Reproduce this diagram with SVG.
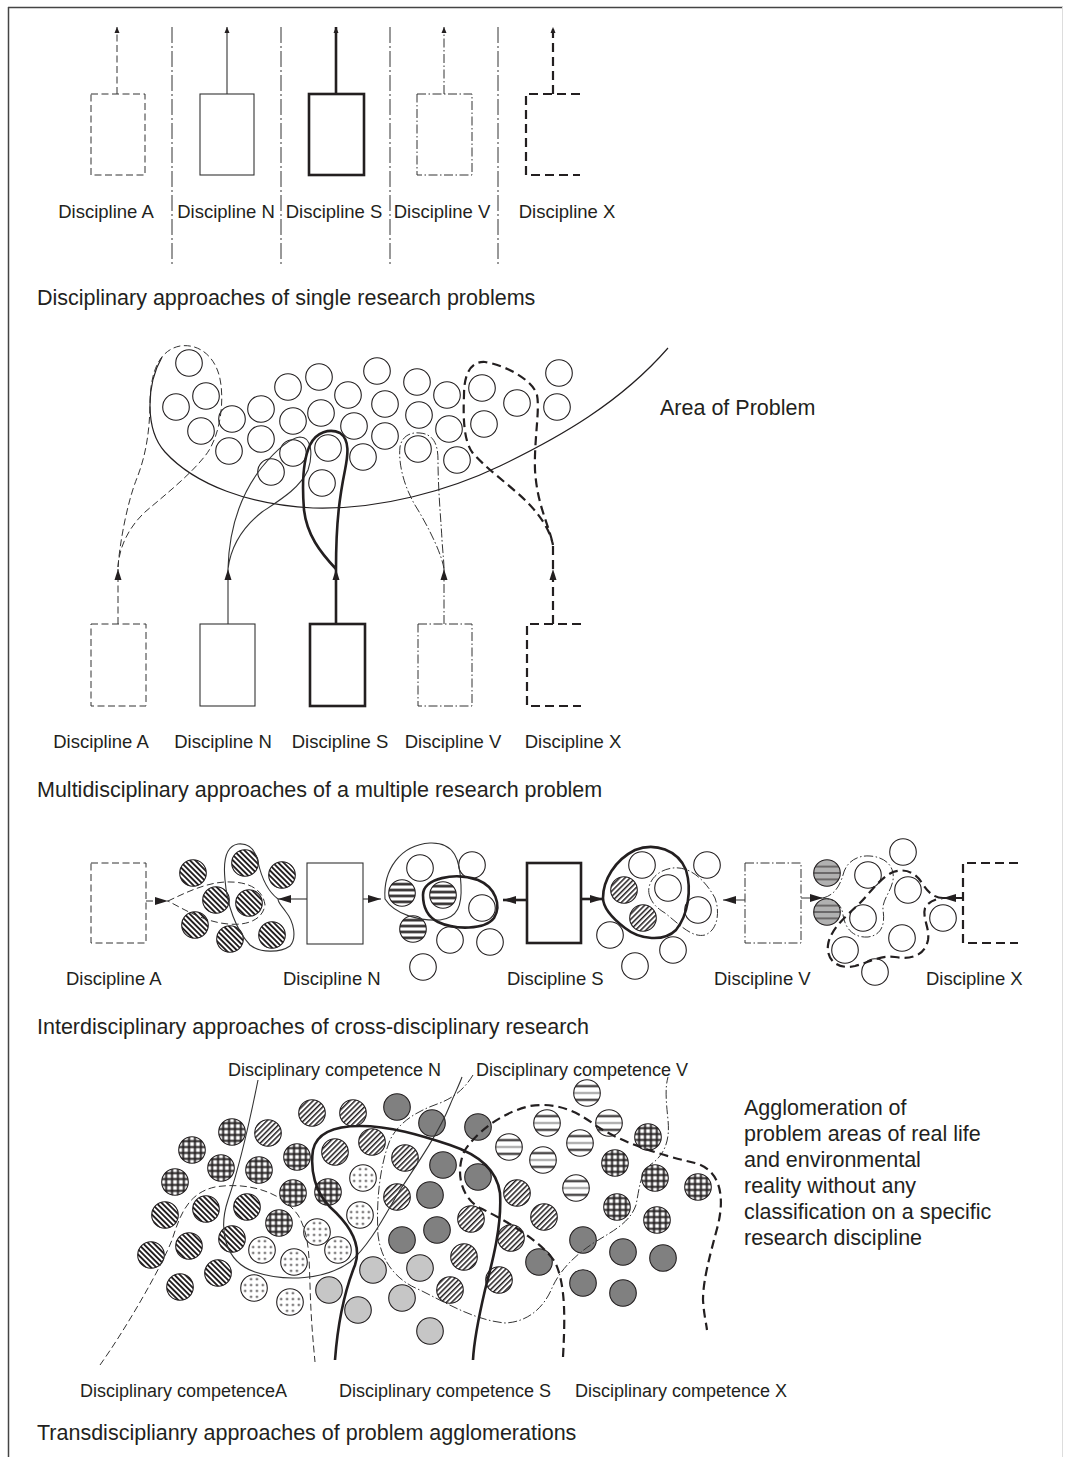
<svg xmlns="http://www.w3.org/2000/svg" width="1066" height="1457" viewBox="0 0 1066 1457">
<style>
.t{font-family:"Liberation Sans",Arial,sans-serif;fill:#231f20}
.ti{font-size:21.5px}
.lb{font-size:18.5px}
.cl{font-size:18px}
.bA{fill:none;stroke:#333;stroke-width:1;stroke-dasharray:7 3.5}
.bN{fill:none;stroke:#333;stroke-width:1.1}
.bS{fill:none;stroke:#231f20;stroke-width:2.6}
.bV{fill:none;stroke:#333;stroke-width:1;stroke-dasharray:9 2.5 1.5 2.5}
.bX{fill:none;stroke:#231f20;stroke-width:2.2;stroke-dasharray:9 5}
.sep{fill:none;stroke:#333;stroke-width:1;stroke-dasharray:16 3 2 3}
.arc{fill:none;stroke:#231f20;stroke-width:1.2}
.c{stroke:#231f20;stroke-width:1.1}
.o{fill:#fff}
.hb{fill:url(#pb)}
.hf{fill:url(#pf)}
.hs{fill:url(#phs)}
.h4{fill:url(#ph4)}
.gs{fill:url(#pgs)}
.gr{fill:url(#pg)}
.dt{fill:url(#pd)}
.dk{fill:#808080}
.lt{fill:#c6c6c6}
</style>
<defs>
<pattern id="pb" width="3.8" height="3.8" patternUnits="userSpaceOnUse" patternTransform="rotate(-45)"><rect width="3.8" height="3.8" fill="#fff"/><rect width="1.9" height="3.8" fill="#231f20"/></pattern>
<pattern id="pf" width="3.7" height="3.7" patternUnits="userSpaceOnUse" patternTransform="rotate(45)"><rect width="3.7" height="3.7" fill="#fff"/><rect width="1.5" height="3.7" fill="#231f20"/></pattern>
<pattern id="pg" width="1" height="1" viewBox="0 0 27 27"><rect width="27" height="27" fill="#fff"/><path d="M4.5,0V27M10.5,0V27M16.5,0V27M22.5,0V27M0,4.5H27M0,10.5H27M0,16.5H27M0,22.5H27" stroke="#231f20" stroke-width="2"/></pattern>
<pattern id="pd" width="1" height="1" viewBox="0 0 27 27"><rect width="27" height="27" fill="#fff"/><g fill="#231f20"><circle cx="10.5" cy="4.5" r="1.1"/><circle cx="16.5" cy="4.5" r="1.1"/><circle cx="4.5" cy="10.5" r="1.1"/><circle cx="10.5" cy="10.5" r="1.1"/><circle cx="16.5" cy="10.5" r="1.1"/><circle cx="22.5" cy="10.5" r="1.1"/><circle cx="4.5" cy="16.5" r="1.1"/><circle cx="10.5" cy="16.5" r="1.1"/><circle cx="16.5" cy="16.5" r="1.1"/><circle cx="22.5" cy="16.5" r="1.1"/><circle cx="10.5" cy="22.5" r="1.1"/><circle cx="16.5" cy="22.5" r="1.1"/></g></pattern>
<pattern id="phs" width="1" height="1" viewBox="0 0 27 27"><rect width="27" height="27" fill="#fff"/><path d="M0,4.5H27M0,10.5H27M0,16.5H27M0,22.5H27" stroke="#231f20" stroke-width="2.3"/></pattern>
<pattern id="ph4" width="1" height="1" viewBox="0 0 27 27"><rect width="27" height="27" fill="#fff"/><path d="M0,6.5H27M0,20.5H27" stroke="#231f20" stroke-width="2.2"/><path d="M0,13.5H27" stroke="#888" stroke-width="1.6"/></pattern>
<pattern id="pgs" width="1" height="1" viewBox="0 0 27 27"><rect width="27" height="27" fill="#b1b1b1"/><path d="M0,7H27M0,13.5H27M0,20H27" stroke="#231f20" stroke-width="1.1"/></pattern>
<marker id="m1" markerWidth="6" markerHeight="6" refX="6" refY="3" orient="auto" markerUnits="userSpaceOnUse"><path d="M0,0.5L6,3L0,5.5Z" fill="#231f20"/></marker>
<marker id="m2" markerWidth="11" markerHeight="8" refX="11" refY="4" orient="auto" markerUnits="userSpaceOnUse"><path d="M0,0.5L11,4L0,7.5Z" fill="#231f20"/></marker>
<marker id="m3" markerWidth="13" markerHeight="9" refX="13" refY="4.5" orient="auto" markerUnits="userSpaceOnUse"><path d="M0,0.5L13,4.5L0,8.5Z" fill="#231f20"/></marker>
</defs>

<g id="frame">
<line x1="8.5" y1="7" x2="8.5" y2="1457" stroke="#444" stroke-width="1.5"/>
<line x1="8" y1="7.5" x2="1063" y2="7.5" stroke="#444" stroke-width="1.5"/>
<line x1="1062.5" y1="7" x2="1062.5" y2="1457" stroke="#ddd" stroke-width="1"/>
</g>

<!-- Section 1 -->
<g id="sec1-separators">
<line class="sep" x1="172" y1="27" x2="172" y2="267"/>
<line class="sep" x1="281" y1="27" x2="281" y2="267"/>
<line class="sep" x1="390" y1="27" x2="390" y2="267"/>
<line class="sep" x1="498" y1="27" x2="498" y2="267"/>
</g>
<g id="s1-A"><rect class="bA" x="91" y="94" width="54" height="81"/><text class="t lb" x="106" y="218" text-anchor="middle">Discipline A</text></g>
<g id="s1-N"><rect class="bN" x="200" y="94" width="54" height="81"/><text class="t lb" x="226" y="218" text-anchor="middle">Discipline N</text></g>
<g id="s1-S"><rect class="bS" x="309" y="94" width="55" height="81"/><text class="t lb" x="334" y="218" text-anchor="middle">Discipline S</text></g>
<g id="s1-V"><rect class="bV" x="417" y="94" width="55" height="81"/><text class="t lb" x="442" y="218" text-anchor="middle">Discipline V</text></g>
<g id="s1-X"><path class="bX" d="M580,94H526V175H580"/><text class="t lb" x="567" y="218" text-anchor="middle">Discipline X</text></g>
<g id="s1-connectors">
<path class="bA" d="M117,94V27" marker-end="url(#m1)"/>
<path class="bN" d="M227,94V27" marker-end="url(#m1)"/>
<path class="bS" d="M336,94V27" marker-end="url(#m1)"/>
<path class="bV" d="M444,94V27" marker-end="url(#m1)"/>
<path class="bX" d="M553,94V27" marker-end="url(#m1)"/>
</g>
<text id="title1" class="t ti" x="37" y="305">Disciplinary approaches of single research problems</text>

<!-- Section 2 -->
<g id="s2-problem">
<path class="arc" d="M162,357C146,385 145,430 165,452C195,485 250,505 313,508C380,510 450,490 500,466C560,437 620,403 668,348"/>
<text class="t ti" x="660" y="415">Area of Problem</text>
<g class="c o">
<circle cx="189" cy="363" r="13.3"/><circle cx="206" cy="396" r="13.3"/><circle cx="176" cy="407" r="13.3"/><circle cx="201" cy="431" r="13.3"/>
<circle cx="232" cy="419" r="13.3"/><circle cx="261" cy="409" r="13.3"/><circle cx="229" cy="451" r="13.3"/><circle cx="261" cy="439" r="13.3"/>
<circle cx="288" cy="387" r="13.3"/><circle cx="319" cy="377" r="13.3"/><circle cx="293" cy="421" r="13.3"/><circle cx="321" cy="413" r="13.3"/>
<circle cx="348" cy="395" r="13.3"/><circle cx="377" cy="371" r="13.3"/><circle cx="385" cy="404" r="13.3"/><circle cx="354" cy="426" r="13.3"/>
<circle cx="385" cy="436" r="13.3"/><circle cx="293" cy="453" r="13.3"/><circle cx="271" cy="472" r="13.3"/><circle cx="328" cy="448" r="13.3"/>
<circle cx="322" cy="483" r="13.3"/><circle cx="363" cy="457" r="13.3"/><circle cx="417" cy="382" r="13.3"/><circle cx="419" cy="415" r="13.3"/>
<circle cx="418" cy="449" r="13.3"/><circle cx="447" cy="395" r="13.3"/><circle cx="449" cy="429" r="13.3"/><circle cx="457" cy="460" r="13.3"/>
<circle cx="482" cy="388" r="13.3"/><circle cx="517" cy="403" r="13.3"/><circle cx="484" cy="424" r="13.3"/><circle cx="559" cy="373" r="13.3"/>
<circle cx="557" cy="407" r="13.3"/>
</g>
</g>
<g id="s2-A"><rect class="bA" x="91" y="624" width="55" height="82"/><text class="t lb" x="101" y="748" text-anchor="middle">Discipline A</text></g>
<g id="s2-N"><rect class="bN" x="200" y="624" width="55" height="82"/><text class="t lb" x="223" y="748" text-anchor="middle">Discipline N</text></g>
<g id="s2-S"><rect class="bS" x="310" y="624" width="55" height="82"/><text class="t lb" x="340" y="748" text-anchor="middle">Discipline S</text></g>
<g id="s2-V"><rect class="bV" x="418" y="624" width="54" height="82"/><text class="t lb" x="453" y="748" text-anchor="middle">Discipline V</text></g>
<g id="s2-X"><path class="bX" d="M581,624H527V706H581"/><text class="t lb" x="573" y="748" text-anchor="middle">Discipline X</text></g>
<g id="s2-connectors">
<path class="bA" d="M118,624V569" marker-end="url(#m2)"/>
<path class="bN" d="M228,624V569" marker-end="url(#m2)"/>
<path class="bS" d="M336,624V569" marker-end="url(#m2)"/>
<path class="bV" d="M444,624V569" marker-end="url(#m2)"/>
<path class="bX" d="M553,624V569" marker-end="url(#m2)"/>
<path class="bA" d="M118,567C120,540 128,500 137,478C146,455 150,430 150,400C151,370 160,350 180,346C200,343 218,358 221,385C224,410 218,440 205,456C190,475 165,495 145,512C128,528 119,548 118,567"/>
<path class="bN" d="M228,569C229,530 240,495 262,467C278,448 290,438 300,437C312,437 313,455 308,470C300,488 280,500 262,512C243,527 231,545 228,569"/>
<path class="bS" d="M336,569C320,552 307,535 304,510C302,485 303,460 310,445C316,432 330,428 340,433C350,440 348,455 345,470C340,495 336,520 336,569"/>
<path class="bV" d="M444,569C442,555 430,530 418,510C405,490 398,465 400,447C402,435 412,432 420,433C432,434 438,442 438,460C438,490 441,520 442,540C443,555 444,562 444,569"/>
<path class="bX" d="M553,569L553,545C549,525 537,505 535,470C534,440 540,410 537,395C533,380 505,365 485,362C470,361 464,375 464,395C463,420 464,440 472,452C485,468 510,485 527,502C540,515 550,530 553,545"/>
</g>
<text id="title2" class="t ti" x="37" y="797">Multidisciplinary approaches of a multiple research problem</text>

<!-- Section 3 -->
<g id="s3-A"><rect class="bA" x="91" y="863" width="55" height="80"/><text class="t lb" x="66" y="985">Discipline A</text></g>
<g id="s3-N"><rect class="bN" x="307" y="863" width="56" height="81"/><text class="t lb" x="283" y="985">Discipline N</text></g>
<g id="s3-S"><rect class="bS" x="527" y="863" width="54" height="80"/><text class="t lb" x="507" y="985">Discipline S</text></g>
<g id="s3-V"><rect class="bV" x="745" y="863" width="56" height="80"/><text class="t lb" x="714" y="985">Discipline V</text></g>
<g id="s3-X"><path class="bX" d="M1018,863H963V943H1018"/><text class="t lb" x="926" y="985">Discipline X</text></g>
<g id="s3-clusters">
<g class="c hb">
<circle cx="193" cy="873" r="13.3"/><circle cx="245" cy="863" r="13.3"/><circle cx="282" cy="875" r="13.3"/><circle cx="216" cy="900" r="13.3"/>
<circle cx="249" cy="903" r="13.3"/><circle cx="195" cy="925" r="13.3"/><circle cx="230" cy="939" r="13.3"/><circle cx="272" cy="935" r="13.3"/>
</g>
<g class="c o">
<circle cx="420" cy="868" r="13.3"/><circle cx="472" cy="865" r="13.3"/><circle cx="482" cy="908" r="13.3"/><circle cx="450" cy="940" r="13.3"/>
<circle cx="490" cy="942" r="13.3"/><circle cx="423" cy="967" r="13.3"/>
<circle cx="642" cy="865" r="13.3"/><circle cx="707" cy="865" r="13.3"/><circle cx="668" cy="888" r="13.3"/><circle cx="698" cy="910" r="13.3"/>
<circle cx="610" cy="935" r="13.3"/><circle cx="673" cy="950" r="13.3"/><circle cx="635" cy="966" r="13.3"/>
<circle cx="903" cy="852" r="13.3"/><circle cx="868" cy="875" r="13.3"/><circle cx="908" cy="890" r="13.3"/><circle cx="863" cy="918" r="13.3"/>
<circle cx="943" cy="918" r="13.3"/><circle cx="902" cy="938" r="13.3"/><circle cx="845" cy="950" r="13.3"/><circle cx="875" cy="972" r="13.3"/>
</g>
<g class="c hs"><circle cx="402" cy="893" r="13.3"/><circle cx="443" cy="895" r="13.3"/><circle cx="413" cy="929" r="13.3"/></g>
<g class="c hf"><circle cx="624" cy="890" r="13.3"/><circle cx="643" cy="918" r="13.3"/></g>
<g class="c gs"><circle cx="827" cy="873" r="13.3"/><circle cx="827" cy="912" r="13.3"/></g>
</g>
<g id="s3-connectors">
<path class="bA" d="M146,901H168" marker-end="url(#m3)"/>
<path class="bN" d="M307,899H278" marker-end="url(#m3)"/>
<path class="bN" d="M363,899H381" marker-end="url(#m3)"/>
<path class="bS" d="M527,900H503" marker-end="url(#m3)"/>
<path class="bS" d="M581,899H603" marker-end="url(#m3)"/>
<path class="bV" d="M745,900H723" marker-end="url(#m3)"/>
<path class="bV" d="M801,898H823" marker-end="url(#m3)"/>
<path class="bX" d="M963,898H943" marker-end="url(#m3)"/>
<path class="bA" d="M168,901C185,893 205,883 225,882C250,881 263,890 265,905C263,918 250,926 228,924C205,922 185,910 168,901Z"/>
<path class="bN" d="M278,899C270,893 262,880 258,862C255,848 248,843 238,844C226,846 223,860 225,880C227,905 236,930 250,945C260,953 280,953 290,946C297,938 294,922 286,912C282,906 278,903 278,899Z"/>
<path class="bN" d="M385,899C383,870 400,845 430,843C455,842 460,860 461,885C462,905 458,918 440,920C420,921 395,915 385,899Z"/>
<path class="bS" d="M423,895C423,878 455,872 478,880C495,887 502,905 494,918C485,930 455,930 438,922C426,916 423,905 423,895Z"/>
<path class="bS" d="M603,898C603,880 615,860 635,850C655,842 678,850 686,870C692,890 688,915 676,930C664,942 640,940 625,928C612,918 603,908 603,898Z"/>
<path class="bV" d="M650,897C645,885 655,870 673,868C690,866 705,880 715,898C720,912 718,930 705,935C692,938 680,925 665,913C655,907 652,902 650,897Z"/>
<path class="bV" d="M823,898C835,895 840,885 843,875C846,862 857,855 870,856C885,857 895,866 893,880C891,892 882,900 883,910C885,922 883,935 868,937C853,938 845,928 843,915C842,905 835,899 823,898Z"/>
<path class="bX" d="M943,898C935,898 928,893 922,883C915,872 905,868 893,872C880,878 870,893 858,905C845,917 830,930 828,945C826,960 838,970 855,966C870,962 880,955 895,957C912,960 925,955 928,940C930,928 922,918 925,908C928,902 935,899 943,898Z"/>
</g>
<text id="title3" class="t ti" x="37" y="1034">Interdisciplinary approaches of cross-disciplinary research</text>

<!-- Section 4 -->
<g id="s4-circles">
<g class="c gr">
<circle cx="232" cy="1132" r="13.3"/><circle cx="192" cy="1150" r="13.3"/><circle cx="221" cy="1168" r="13.3"/><circle cx="175" cy="1182" r="13.3"/>
<circle cx="259" cy="1170" r="13.3"/><circle cx="297" cy="1157" r="13.3"/><circle cx="293" cy="1193" r="13.3"/><circle cx="328" cy="1192" r="13.3"/>
<circle cx="279" cy="1223" r="13.3"/><circle cx="648" cy="1137" r="13.3"/><circle cx="615" cy="1163" r="13.3"/><circle cx="655" cy="1178" r="13.3"/>
<circle cx="698" cy="1187" r="13.3"/><circle cx="617" cy="1207" r="13.3"/><circle cx="657" cy="1220" r="13.3"/>
</g>
<g class="c hb">
<circle cx="165" cy="1215" r="13.3"/><circle cx="206" cy="1209" r="13.3"/><circle cx="247" cy="1207" r="13.3"/><circle cx="151" cy="1255" r="13.3"/>
<circle cx="189" cy="1246" r="13.3"/><circle cx="232" cy="1239" r="13.3"/><circle cx="218" cy="1273" r="13.3"/><circle cx="180" cy="1287" r="13.3"/>
</g>
<g class="c hf">
<circle cx="268" cy="1133" r="13.3"/><circle cx="312" cy="1113" r="13.3"/><circle cx="353" cy="1113" r="13.3"/><circle cx="335" cy="1152" r="13.3"/>
<circle cx="372" cy="1142" r="13.3"/><circle cx="405" cy="1158" r="13.3"/><circle cx="397" cy="1197" r="13.3"/><circle cx="517" cy="1193" r="13.3"/>
<circle cx="471" cy="1219" r="13.3"/><circle cx="544" cy="1217" r="13.3"/><circle cx="511" cy="1238" r="13.3"/><circle cx="464" cy="1257" r="13.3"/>
<circle cx="499" cy="1280" r="13.3"/><circle cx="450" cy="1290" r="13.3"/>
</g>
<g class="c dt">
<circle cx="363" cy="1178" r="13.3"/><circle cx="360" cy="1215" r="13.3"/><circle cx="317" cy="1232" r="13.3"/><circle cx="262" cy="1250" r="13.3"/>
<circle cx="294" cy="1262" r="13.3"/><circle cx="338" cy="1250" r="13.3"/><circle cx="254" cy="1288" r="13.3"/><circle cx="290" cy="1302" r="13.3"/>
</g>
<g class="c dk">
<circle cx="397" cy="1107" r="13.3"/><circle cx="432" cy="1123" r="13.3"/><circle cx="478" cy="1127" r="13.3"/><circle cx="443" cy="1165" r="13.3"/>
<circle cx="478" cy="1177" r="13.3"/><circle cx="430" cy="1195" r="13.3"/><circle cx="437" cy="1230" r="13.3"/><circle cx="402" cy="1240" r="13.3"/>
<circle cx="583" cy="1240" r="13.3"/><circle cx="623" cy="1252" r="13.3"/><circle cx="663" cy="1258" r="13.3"/><circle cx="539" cy="1262" r="13.3"/>
<circle cx="583" cy="1283" r="13.3"/><circle cx="623" cy="1293" r="13.3"/>
</g>
<g class="c lt">
<circle cx="329" cy="1290" r="13.3"/><circle cx="373" cy="1270" r="13.3"/><circle cx="358" cy="1310" r="13.3"/><circle cx="402" cy="1298" r="13.3"/>
<circle cx="420" cy="1268" r="13.3"/><circle cx="430" cy="1331" r="13.3"/>
</g>
<g class="c h4">
<circle cx="587" cy="1093" r="13.3"/><circle cx="547" cy="1123" r="13.3"/><circle cx="609" cy="1123" r="13.3"/><circle cx="509" cy="1147" r="13.3"/>
<circle cx="580" cy="1143" r="13.3"/><circle cx="543" cy="1160" r="13.3"/><circle cx="576" cy="1188" r="13.3"/>
</g>
</g>
<g id="s4-competence-areas">
<path class="bA" d="M100,1365C125,1330 160,1270 172,1240C180,1215 188,1193 215,1187C245,1182 280,1190 298,1215C310,1235 309,1260 310,1285C311,1320 313,1340 315,1362"/>
<path class="bN" d="M258,1080C250,1120 240,1165 228,1200C218,1230 225,1262 255,1272C285,1282 325,1280 350,1262C370,1245 385,1215 400,1190C420,1160 440,1130 450,1105C455,1093 460,1083 462,1077"/>
<path class="bV" d="M473,1075C465,1088 455,1097 440,1103C420,1110 400,1120 390,1140C380,1165 376,1200 378,1235C381,1260 395,1280 420,1290C450,1305 475,1320 505,1323C530,1322 545,1305 552,1288C560,1270 575,1255 595,1242C615,1230 630,1222 636,1205C640,1185 640,1175 650,1165C665,1155 670,1140 668,1120C666,1100 665,1088 668,1077"/>
<path class="bS" d="M335,1360C338,1320 345,1290 355,1265C362,1245 350,1225 330,1207C315,1192 310,1170 313,1150C317,1132 335,1126 360,1126C390,1126 420,1135 450,1145C480,1155 497,1170 500,1193C502,1225 493,1260 485,1290C478,1320 474,1340 473,1360"/>
<path class="bX" d="M563,1357C565,1320 566,1285 555,1262C540,1240 505,1220 480,1208C460,1197 455,1170 465,1150C480,1128 505,1112 530,1106C555,1102 575,1110 595,1125C620,1142 660,1155 695,1163C720,1170 725,1195 718,1225C710,1255 703,1280 703,1300C704,1315 706,1322 707,1330"/>
</g>
<g id="s4-labels">
<text class="t cl" x="228" y="1076">Disciplinary competence N</text>
<text class="t cl" x="476" y="1076">Disciplinary competence V</text>
<text class="t cl" x="80" y="1397">Disciplinary competenceA</text>
<text class="t cl" x="339" y="1397">Disciplinary competence S</text>
<text class="t cl" x="575" y="1397">Disciplinary competence X</text>
</g>
<g id="s4-note">
<text class="t ti" x="744" y="1115">Agglomeration of</text>
<text class="t ti" x="744" y="1141">problem areas of real life</text>
<text class="t ti" x="744" y="1167">and environmental</text>
<text class="t ti" x="744" y="1193">reality without any</text>
<text class="t ti" x="744" y="1219">classification on a specific</text>
<text class="t ti" x="744" y="1245">research discipline</text>
</g>
<text id="title4" class="t ti" x="37" y="1440">Transdisciplianry approaches of problem agglomerations</text>
</svg>
